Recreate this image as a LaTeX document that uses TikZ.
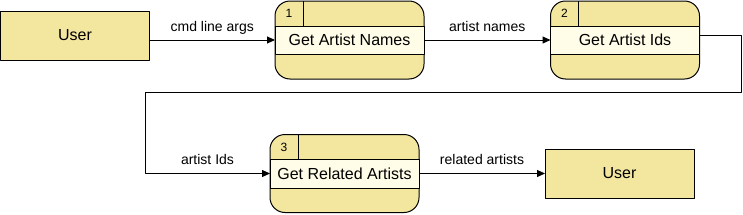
\documentclass[tikz,border=0pt]{standalone}
\usepackage{fontspec}
\setmainfont{Liberation Sans}
\usetikzlibrary{arrows.meta}
\definecolor{boxyellow}{RGB}{243,231,160}
\definecolor{bandyellow}{RGB}{255,253,231}
\begin{document}
\begin{tikzpicture}[x=1pt,y=-1pt,line join=round,>={Triangle[length=8pt,width=7pt]},
  extbox/.style={draw,line width=1pt,fill=boxyellow,minimum width=149pt,minimum height=49pt,inner sep=0pt,outer sep=0pt,font=\fontsize{16}{19}\selectfont},
  procbox/.style={draw,line width=1pt,fill=boxyellow,rounded corners=15pt,minimum width=149pt,minimum height=78pt,inner sep=0pt,outer sep=0pt},
  proctext/.style={inner sep=0pt,font=\fontsize{16}{19}\selectfont},
  procnum/.style={inner sep=0pt,font=\fontsize{12}{14}\selectfont},
  flowlabel/.style={inner sep=0pt,anchor=base,yshift=9pt,font=\fontsize{14}{17}\selectfont},
  flow/.style={line width=1pt,->}]
  \useasboundingbox (0,0) rectangle (743,214);
  % external entities
  \node[extbox] (u1) at (75,35.5) {User};
  \node[extbox] (u2) at (619.5,173.5) {User};
  % process 1
  \node[procbox] (p1) at (349.5,40) {};
  \draw[line width=1pt,fill=bandyellow] ([yshift=-25pt]p1.north west) rectangle ([yshift=-53.5pt]p1.north east);
  \draw[line width=1pt] ([xshift=28pt]p1.north west) -- ([xshift=28pt,yshift=-25pt]p1.north west);
  \node[procnum] (p1num) at ([xshift=14pt,yshift=-12.5pt]p1.north west) {1};
  \node[proctext] (p1txt) at ([yshift=-39.25pt]p1.north) {Get Artist Names};
  % process 2
  \node[procbox] (p2) at (625,40) {};
  \draw[line width=1pt,fill=bandyellow] ([yshift=-25pt]p2.north west) rectangle ([yshift=-53.5pt]p2.north east);
  \draw[line width=1pt] ([xshift=28pt]p2.north west) -- ([xshift=28pt,yshift=-25pt]p2.north west);
  \node[procnum] (p2num) at ([xshift=14pt,yshift=-12.5pt]p2.north west) {2};
  \node[proctext] (p2txt) at ([yshift=-39.25pt]p2.north) {Get Artist Ids};
  % process 3
  \node[procbox] (p3) at (344.5,173.5) {};
  \draw[line width=1pt,fill=bandyellow] ([yshift=-25pt]p3.north west) rectangle ([yshift=-53.5pt]p3.north east);
  \draw[line width=1pt] ([xshift=28pt]p3.north west) -- ([xshift=28pt,yshift=-25pt]p3.north west);
  \node[procnum] (p3num) at ([xshift=14pt,yshift=-12.5pt]p3.north west) {3};
  \node[proctext] (p3txt) at ([yshift=-39.25pt]p3.north) {Get Related Artists};
  % data flows
  \draw[flow] (u1.east |- p1) -- node[flowlabel] (l1) {cmd line args} (p1.west);
  \draw[flow] (p1) -- node[flowlabel] (l2) {artist names} (p2);
  \draw[flow] ([yshift=5pt]p2.east) -- ++(42,0) |- (145,92) |- node[pos=0.75,flowlabel] (l3) {artist Ids} (p3.west);
  \draw[flow] (p3) -- node[flowlabel] (l4) {related artists} (u2);
\end{tikzpicture}
\end{document}
